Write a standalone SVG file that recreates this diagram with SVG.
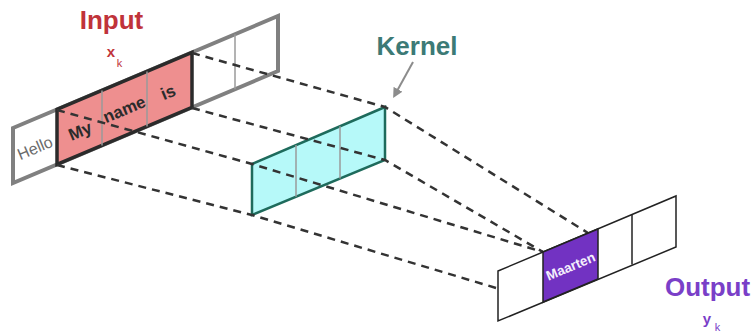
<svg xmlns="http://www.w3.org/2000/svg" width="755" height="334" viewBox="0 0 755 334">
<style>
.lbl{font-family:"Liberation Sans",Arial,sans-serif;font-weight:bold;text-anchor:middle}
.cell{font-family:"Liberation Sans",Arial,sans-serif;text-anchor:middle}
.dash{fill:none;stroke:#333;stroke-width:2.5;stroke-dasharray:8 6}
.div{stroke:#9a9a9a;stroke-width:1.5}
</style>
<defs>
<marker id="ah" viewBox="0 0 10 10" refX="2" refY="5" markerWidth="5" markerHeight="5" orient="auto" markerUnits="strokeWidth">
<path d="M0,0 L10,5 L0,10 z" fill="#8c8c8c"/>
</marker>
</defs>
<rect width="755" height="334" fill="#fff"/>
<g id="input">
<polygon points="13,128 278,16 278,71 13,183" fill="#fff" stroke="#808080" stroke-width="4"/>
<line class="div" x1="235" y1="34.2" x2="235" y2="89.2"/>
<polygon points="57,109.4 192,52.4 192,107.4 57,164.4" fill="#ee8f8f" stroke="#2b2b2b" stroke-width="3.5"/>
<line class="div" x1="102" y1="90.4" x2="102" y2="145.4"/>
<line class="div" x1="147" y1="71.4" x2="147" y2="126.4"/>
<g transform="translate(35,148) rotate(-22.9)"><text class="cell" x="0" y="5.5" font-size="16" fill="#6b6b6b">Hello</text></g>
<g transform="translate(80,131) rotate(-22.9)"><text class="cell" x="0" y="6" font-size="17" font-weight="bold" fill="#2b2b2b">My</text></g>
<g transform="translate(125,111) rotate(-22.9)"><text class="cell" x="0" y="4" font-size="17" font-weight="bold" fill="#2b2b2b">name</text></g>
<g transform="translate(168,92) rotate(-22.9)"><text class="cell" x="0" y="6" font-size="17" font-weight="bold" fill="#2b2b2b">is</text></g>
<text class="lbl" x="111.5" y="29" font-size="26" fill="#c0333a">Input</text>
<text class="lbl" x="111" y="57" font-size="15" fill="#c0333a">x</text>
<text class="cell" x="119.5" y="67" font-size="11" fill="#c0333a">k</text>
</g>
<g id="kernel">
<polygon points="252,164 385,107 385,160 252,215" fill="#b6f9f9" stroke="#1e6b5c" stroke-width="2.5"/>
<line class="div" x1="296" y1="145.1" x2="296" y2="196.8"/>
<line class="div" x1="340" y1="126.3" x2="340" y2="178.6"/>
<text class="lbl" x="417" y="55" font-size="26" fill="#3c7a76">Kernel</text>
</g>
<g id="connectors">
<path class="dash" d="M57,110 L252,164 L543,252"/>
<path class="dash" d="M192,53 L385,107 L588,233"/>
<path class="dash" d="M57,165 L252,215 L543,302"/>
<path class="dash" d="M192,108 L385,160 L543,252"/>
<line x1="413" y1="62" x2="397" y2="91" stroke="#8c8c8c" stroke-width="2" marker-end="url(#ah)"/>
</g>
<g id="output">
<polygon points="498,271 676,196 676,247 498,321" fill="#fff" stroke="#222" stroke-width="1.5"/>
<polygon points="543,252 598,229 598,279 543,302" fill="#7232c2" stroke="#222" stroke-width="1.5"/>
<line x1="632" y1="214.6" x2="632" y2="264.6" stroke="#222" stroke-width="1.5"/>
<g transform="translate(570.5,266) rotate(-22.9)"><text class="cell" x="0" y="5" font-size="13.5" font-weight="bold" fill="#f4eefc">Maarten</text></g>
<text class="lbl" x="707.5" y="296" font-size="26" fill="#7a3fc8">Output</text>
<text class="lbl" x="707" y="324" font-size="15" fill="#7a3fc8">y</text>
<text class="cell" x="717.5" y="331" font-size="11" fill="#7a3fc8">k</text>
</g>
</svg>
